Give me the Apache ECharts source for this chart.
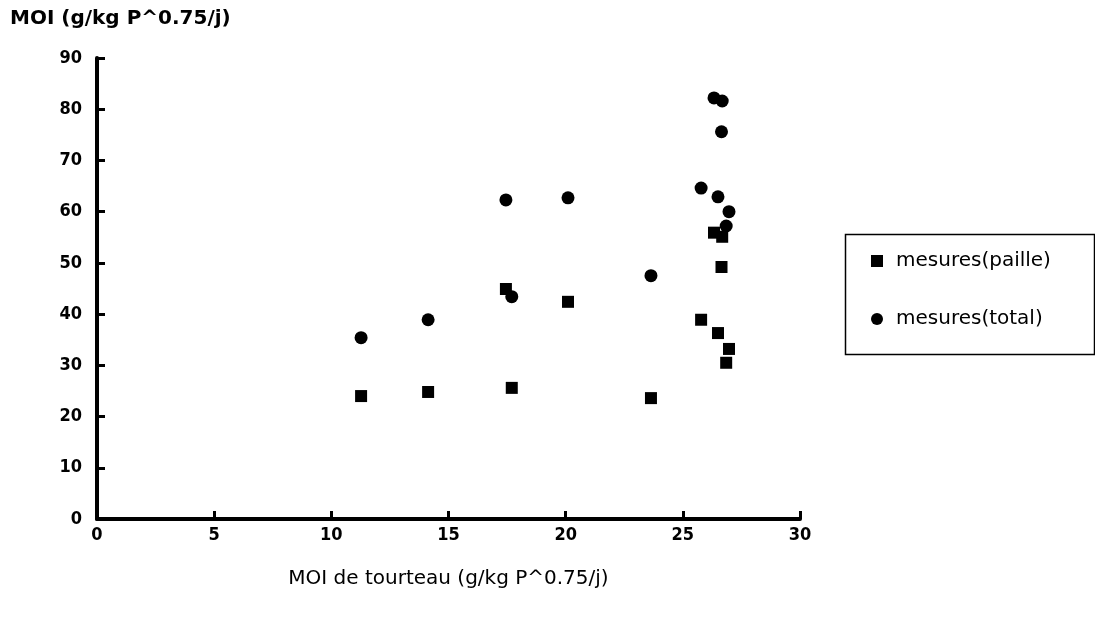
<!DOCTYPE html>
<html><head><meta charset="utf-8">
<script src="https://cdn.jsdelivr.net/npm/echarts@6/dist/echarts.min.js"></script>
<style>html,body{margin:0;padding:0;background:#fff}#c{width:1095px;height:619px}</style>
</head><body><div id="c"></div>
<script>
const xValues = [11.27, 14.13, 17.45, 17.7, 20.1, 23.64, 25.78, 26.33, 26.68, 26.65, 26.5, 26.97, 26.85];
const xValuesAll = [11.27, 14.13, 17.45, 17.7, 20.1, 23.64, 25.78, 26.33, 26.68, 26.65, 26.5, 26.97, 26.85];
const paille = [24.0, 24.8, 44.9, 25.6, 42.4, 23.6, 38.9, 55.9, 55.1, 49.2, 36.3, 33.2, 30.5];
const total  = [35.4, 38.9, 62.3, 43.4, 62.7, 47.5, 64.6, 82.2, 81.6, 75.6, 62.9, 60.0, 57.2];
const seriesNames = ['mesures(paille)', 'mesures(total)'];
const yTitle = 'MOI (g/kg P^0.75/j)';
const xTitle = 'MOI de tourteau (g/kg P^0.75/j)';

const fontF = '"Liberation Sans Narrow", "DejaVu Sans Condensed", "Liberation Sans", sans-serif';
const wideF = '"DejaVu Sans", Verdana, sans-serif';
const chart = echarts.init(document.getElementById('c'));
chart.setOption({
  animation: false,
  grid: {left: 97, right: 295, top: 58, bottom: 100, containLabel: false},
  xAxis: {
    type: 'value', min: 0, max: 30, interval: 5,
    name: xTitle, nameLocation: 'middle', nameGap: 50,
    nameTextStyle: {fontFamily: wideF, fontSize: 20, color: '#000'},
    axisLine: {lineStyle: {color: '#000', width: 4}},
    axisTick: {inside: true, length: 8, lineStyle: {color: '#000', width: 3}},
    axisLabel: {fontFamily: fontF, fontWeight: 'bold', fontSize: 18, color: '#000', margin: 7},
    splitLine: {show: false}
  },
  yAxis: {
    type: 'value', min: 0, max: 90, interval: 10,
    axisLine: {show: true, lineStyle: {color: '#000', width: 4}},
    axisTick: {show: true, inside: true, length: 8, lineStyle: {color: '#000', width: 3}},
    axisLabel: {fontFamily: fontF, fontWeight: 'bold', fontSize: 18, color: '#000', margin: 15},
    splitLine: {show: false}
  },
  legend: {
    orient: 'vertical', left: 866, top: 246, itemGap: 38,
    itemWidth: 12, itemHeight: 12,
    textStyle: {fontFamily: wideF, fontSize: 20, color: '#000', padding: [0, 0, 0, 8]},
    data: [{name: seriesNames[0], icon: 'rect'}, {name: seriesNames[1], icon: 'circle'}]
  },
  graphic: [
    {type: 'rect', left: 843, top: 232, shape: {width: 249, height: 120}, style: {fill: 'none', stroke: '#000', lineWidth: 1.5}},
    {type: 'text', left: 10, top: 9, style: {text: yTitle, fontFamily: '"DejaVu Sans", sans-serif', fontWeight: 'bold', fontSize: 20, fill: '#000'}}
  ],
  series: [
    {name: seriesNames[0], type: 'scatter', symbol: 'rect', symbolSize: 12, itemStyle: {color: '#000', opacity: 1},
     data: xValues.map((x, i) => [x, paille[i]])},
    {name: seriesNames[1], type: 'scatter', symbol: 'circle', symbolSize: 13, itemStyle: {color: '#000', opacity: 1},
     data: xValuesAll.map((x, i) => [x, total[i]])}
  ]
});
</script></body></html>
